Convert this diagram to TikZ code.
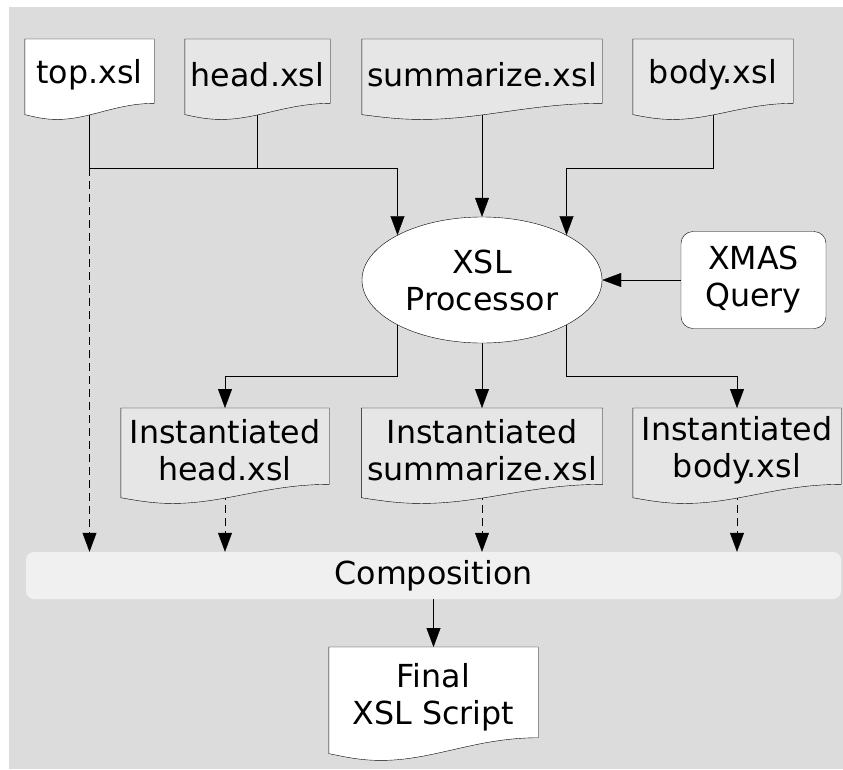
\documentclass[tikz,border=0pt]{standalone}
\usepackage{fontspec}
\setmainfont{DejaVu Sans}
\usetikzlibrary{arrows.meta,shapes.geometric,calc}
\definecolor{bggray}{HTML}{DCDCDC}
\definecolor{docgray}{HTML}{E6E6E6}
\definecolor{compgray}{HTML}{F0F0F0}
\pgfdeclarelayer{back}
\pgfdeclarelayer{edges}
\pgfdeclarelayer{docs}
\pgfsetlayers{back,edges,docs,main}
% document sheet with wavy bottom, drawn under the node text
\newcommand{\docshape}[2]{%
\begin{pgfonlayer}{docs}
\draw[fill=#2] let \p1=(#1.north west), \p2=(#1.south east),
  \n1={(\y1-\y2)/0.88}, \n2={\x2-\x1} in
  (\p1) -- (\x2,\y1) -- ({\x2},{\y1-0.8*\n1})
  .. controls ({\x1+0.7*\n2},{\y1-0.8*\n1}) and ({\x1+0.5*\n2},{\y1-\n1}) .. ({\x1+0.25*\n2},{\y1-\n1})
  .. controls ({\x1+0.15*\n2},{\y1-\n1}) and ({\x1+0.08*\n2},{\y1-0.97*\n1}) .. ({\x1},{\y1-0.94*\n1}) -- cycle;
\end{pgfonlayer}}

\begin{document}
\begin{tikzpicture}[x=1pt, y=-1pt, line width=2pt,
  >={Triangle[length=19pt,width=14pt]},
  font=\fontsize{31.7}{37}\selectfont,
  doc/.style={inner sep=0pt, align=center, anchor=north},
  dashline/.style={dash pattern=on 8pt off 5pt}]
\useasboundingbox (0,0) rectangle (843,769);
\begin{pgfonlayer}{back}
\fill[bggray] (9,7) rectangle (843,769);
\end{pgfonlayer}

\node[doc, minimum width=129pt, minimum height=70.4pt] (top) at (89.5,39) {top.xsl};
\node[doc, minimum width=145pt, minimum height=70.4pt] (head) at (257.5,39) {head.xsl};
\node[doc, minimum width=240pt, minimum height=70.4pt] (summ) at (482,39) {summarize.xsl};
\node[doc, minimum width=160pt, minimum height=70.4pt] (body) at (713,39) {body.xsl};

\node[ellipse, draw, fill=white, inner sep=0pt, minimum width=240pt, minimum height=126pt, align=center]
  (xsl) at (482,280) {XSL\\Processor};
\node[draw, fill=white, rounded corners=12pt, minimum width=145pt, minimum height=97pt, align=center]
  (xmas) at (753.5,280) {XMAS\\Query};

\node[doc, minimum width=208pt, minimum height=83.6pt] (ihead) at (225,408) {Instantiated\\head.xsl};
\node[doc, minimum width=241pt, minimum height=83.6pt] (isumm) at (482,408) {Instantiated\\summarize.xsl};
\node[doc, minimum width=208pt, minimum height=83.6pt] (ibody) at (737,408) {Instantiated\\body.xsl};

\node[fill=compgray, rounded corners=8pt, minimum width=815pt, minimum height=47pt]
  (comp) at (433.5,575.5) {Composition};

\node[doc, minimum width=209pt, minimum height=99.4pt] (final) at (433.5,647) {Final\\XSL Script};

\docshape{top}{white}
\docshape{head}{docgray}
\docshape{summ}{docgray}
\docshape{body}{docgray}
\docshape{ihead}{docgray}
\docshape{isumm}{docgray}
\docshape{ibody}{docgray}
\docshape{final}{white}

\begin{pgfonlayer}{edges}
\coordinate (jt) at (top.south |- 0,168);
\coordinate (jl) at (xsl.152 |- 0,168);
\coordinate (jr) at (xsl.28 |- 0,168);
\draw (top) -- (jt) -- (jl);
\draw (head) -- (head |- jl);
\draw[->] (jl) -- (xsl.152);
\draw[->] (summ) -- (xsl.north);
\draw (body) |- (jr);
\draw[->] (jr) -- (xsl.28);
\draw[->] (xmas) -- (xsl);
\draw[->] (xsl.208) |- ([yshift=32pt]ihead.north) -- (ihead.north);
\draw[->] (xsl.south) -- (isumm.north);
\draw[->] (xsl.332) |- ([yshift=32pt]ibody.north) -- (ibody.north);
\draw[->, dashline] (jt) -- (jt |- comp.north);
\foreach \n in {ihead,isumm,ibody}
  \draw[->, dashline] (\n.south) -- (\n.south |- comp.north);
\draw[->] (comp.south) -- (final.north);
\end{pgfonlayer}
\end{tikzpicture}
\end{document}
